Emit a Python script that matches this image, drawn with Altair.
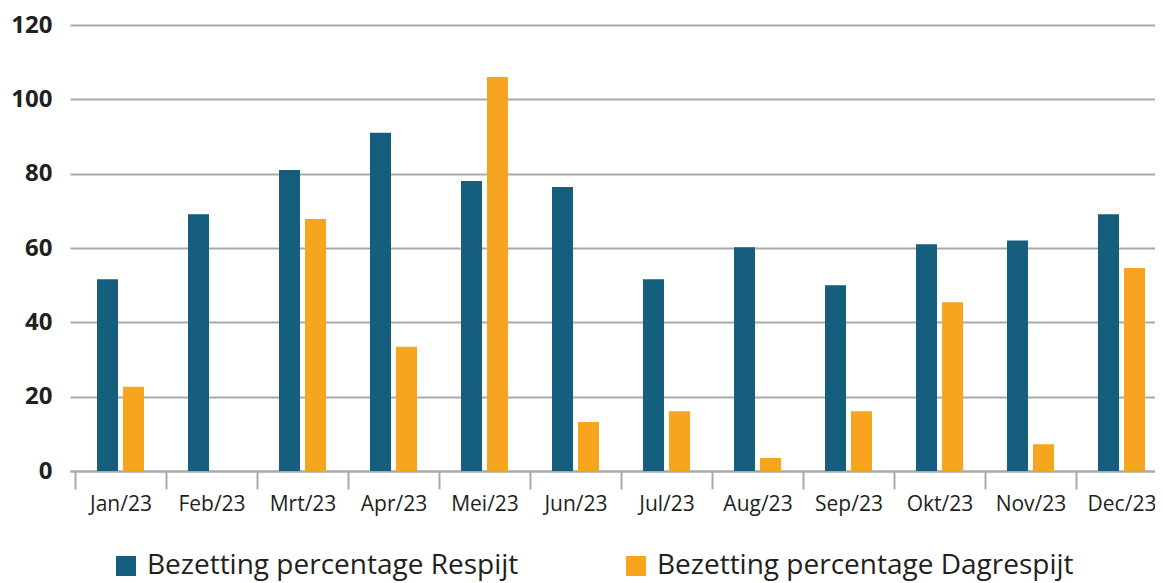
import altair as alt
import pandas as pd

months = ["Jan/23", "Feb/23", "Mrt/23", "Apr/23", "Mei/23", "Jun/23",
          "Jul/23", "Aug/23", "Sep/23", "Okt/23", "Nov/23", "Dec/23"]
series_names = ["Bezetting percentage Respijt", "Bezetting percentage Dagrespijt"]
respijt = [51.6, 69.1, 81.0, 91.0, 78.0, 76.4, 51.6, 60.2, 50.0, 61.0, 62.0, 69.1]
dagrespijt = [22.7, 0.0, 67.8, 33.4, 106.0, 13.2, 16.1, 3.5, 16.1, 45.4, 7.2, 54.6]
y_ticks = [0, 20, 40, 60, 80, 100, 120]

rows = []
for m, a, b in zip(months, respijt, dagrespijt):
    rows.append({"month": m, "series": series_names[0], "value": a})
    rows.append({"month": m, "series": series_names[1], "value": b})
df = pd.DataFrame(rows)

BLUE = "#165e7d"
ORANGE = "#f7a51e"
GRID = "#a7a9ac"
TEXT = "#231f20"
FONT = "Open Sans"

chart = alt.Chart(df).mark_bar().encode(
    x=alt.X(
        "month:N", sort=months,
        scale=alt.Scale(paddingInner=0, paddingOuter=0.0275, align=1),
        axis=alt.Axis(
            title=None, labelAngle=0, tickBand="extent", grid=False,
            domain=True, domainColor=GRID, domainWidth=2,
            ticks=True, tickColor=GRID, tickWidth=2, tickSize=18,
            labelFont=FONT, labelFontSize=21, labelColor=TEXT, labelPadding=4,
        ),
    ),
    xOffset=alt.XOffset(
        "series:N", sort=series_names,
        scale=alt.Scale(paddingInner=0.192, paddingOuter=0.846),
    ),
    y=alt.Y(
        "value:Q",
        scale=alt.Scale(domain=[0, 120], nice=False),
        axis=alt.Axis(
            title=None, values=y_ticks, grid=True, gridColor=GRID, gridWidth=2,
            domain=False, ticks=False, labelPadding=18,
            labelFont=FONT, labelFontSize=24, labelFontWeight="bold", labelColor=TEXT,
        ),
    ),
    color=alt.Color(
        "series:N", sort=series_names,
        scale=alt.Scale(domain=series_names, range=[BLUE, ORANGE]),
        legend=alt.Legend(
            title=None, orient="none", legendX=42, legendY=527,
            direction="horizontal", symbolType="square", symbolSize=400,
            symbolStrokeWidth=0, labelFont=FONT, labelFontSize=28,
            labelColor=TEXT, labelOffset=7, columnPadding=103, labelLimit=800,
        ),
    ),
).properties(
    width=1097, height=446,
    autosize=alt.AutoSizeParams(type="none"),
    padding={"left": 62, "top": 17, "right": -12, "bottom": 112},
).configure_view(stroke=None)

chart.save("out.html", embed_options={"renderer": "svg", "actions": False})
